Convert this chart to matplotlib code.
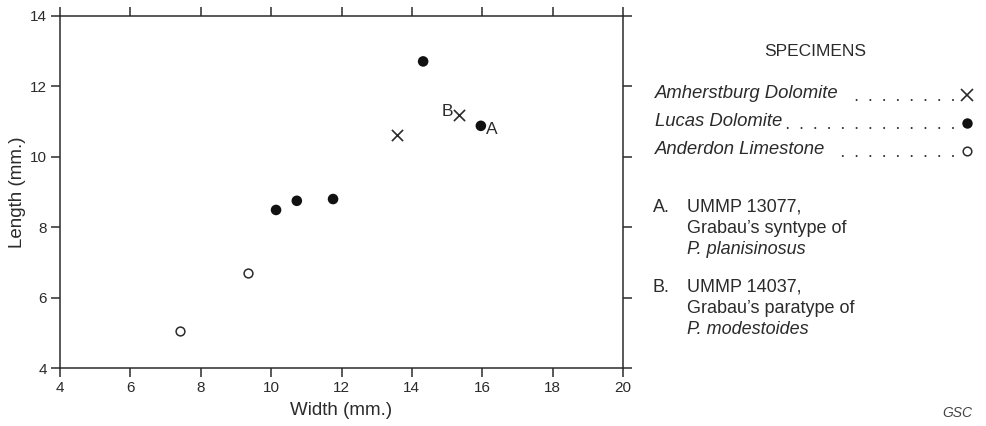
import matplotlib
matplotlib.use("Agg")
import matplotlib.pyplot as plt

plt.rcParams['font.family'] = ['Liberation Sans', 'DejaVu Sans']

INK = '#2b2b2b'

# Data (width, length in mm)
amherstburg_w = [13.57, 15.34]
amherstburg_l = [10.62, 11.20]
lucas_w = [10.14, 10.73, 11.76, 14.32, 15.96]
lucas_l = [8.49, 8.75, 8.80, 12.71, 10.88]
anderdon_w = [7.41, 9.34]
anderdon_l = [5.05, 6.70]

x_ticks = [4, 6, 8, 10, 12, 14, 16, 18, 20]
y_ticks = [4, 6, 8, 10, 12, 14]

legend_names = ['Amherstburg Dolomite', 'Lucas Dolomite', 'Anderdon Limestone']

W, H = 986, 426
fig = plt.figure(figsize=(W / 100, H / 100), dpi=100)
ax = fig.add_axes([60 / W, 1 - 368 / H, (623 - 60) / W, (368 - 16) / H])

ax.scatter(amherstburg_w, amherstburg_l, marker='x', s=65, color=INK, linewidths=1.2, zorder=3)
ax.scatter(lucas_w, lucas_l, marker='o', s=58, color='#111111', edgecolors='none', zorder=3)
ax.scatter(anderdon_w, anderdon_l, marker='o', s=40, facecolors='white', edgecolors=INK, linewidths=1.1, zorder=3)

# point labels
ax.annotate('B', (amherstburg_w[1], amherstburg_l[1]), xytext=(-4, 2), textcoords='offset points',
            ha='right', va='center', fontsize=12.5, color=INK)
ax.annotate('A', (lucas_w[4], lucas_l[4]), xytext=(4, -3), textcoords='offset points',
            ha='left', va='center', fontsize=12.5, color=INK)

ax.set_xlim(4, 20)
ax.set_ylim(4, 14)
ax.set_xticks(x_ticks)
ax.set_yticks(y_ticks)
ax.tick_params(direction='out', length=6.5, width=1.1, color=INK, labelcolor=INK, labelsize=11,
               top=True, right=True, labeltop=False, labelright=False, pad=3)
for s in ax.spines.values():
    s.set_color(INK)
    s.set_linewidth(1.1)
ax.set_xlabel('Width (mm.)', fontsize=13.5, color=INK, labelpad=5)
ax.set_ylabel('Length (mm.)', fontsize=13.5, color=INK, labelpad=3)

# Right-hand key drawn on an overlay in pixel coordinates
ov = fig.add_axes([0, 0, 1, 1], facecolor='none')
ov.set_xlim(0, W)
ov.set_ylim(H, 0)
ov.axis('off')

ov.text(815, 52, 'SPECIMENS', ha='center', va='center', fontsize=12.5, color=INK)
rows_y = [94, 122, 150]
renderer = fig.canvas.get_renderer()
for name, y in zip(legend_names, rows_y):
    t = ov.text(655, y, name, ha='left', va='center', fontsize=13.3, style='italic', color=INK)
    x_end = t.get_window_extent(renderer=renderer).x1
    ov.plot([953, x_end + 5], [y + 6, y + 6], linestyle=(0, (0.01, 6.6)), linewidth=1.5,
            color=INK, dash_capstyle='round')
ov.plot([966.5], [rows_y[0] + 1], marker='x', ms=8.5, mew=1.2, color=INK, linestyle='none')
ov.plot([967], [rows_y[1] + 1], marker='o', ms=7.5, color='#111111', mec='none', linestyle='none')
ov.plot([967], [rows_y[2] + 1], marker='o', ms=6.2, mfc='white', mec=INK, mew=1.1, linestyle='none')

notes = [
    ('A.', ['UMMP 13077,', "Grabau\u2019s syntype of", 'P. planisinosus'], 207),
    ('B.', ['UMMP 14037,', "Grabau\u2019s paratype of", 'P. modestoides'], 287),
]
for letter, lines, y0 in notes:
    ov.text(653, y0, letter, ha='left', va='center', fontsize=13, color=INK)
    for i, line in enumerate(lines):
        ov.text(687, y0 + i * 21.5, line, ha='left', va='center', fontsize=13, color=INK,
                style='italic' if i == 2 else 'normal')

ov.text(972, 413, 'GSC', ha='right', va='center', fontsize=10, style='italic', color='#444444')

fig.savefig('out.png', dpi=100)
